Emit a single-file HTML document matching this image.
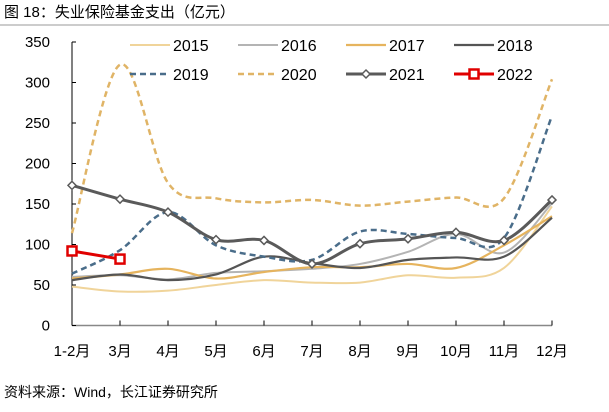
<!DOCTYPE html>
<html><head><meta charset="utf-8"><style>
body{margin:0;background:#fff;width:609px;height:407px;overflow:hidden;font-family:"Liberation Sans","Noto Sans CJK SC",sans-serif}
</style></head><body>
<svg width="609" height="407">
<text x="4" y="17" font-size="15" fill="#000">图 18：失业保险基金支出（亿元）</text>
<line x1="0" y1="25" x2="609" y2="25" stroke="#999" stroke-width="1"/>
<g id="axes"></g>
<g id="series"></g>
<g id="legend"></g>
<text x="4" y="397" font-size="14" fill="#000">资料来源：Wind，长江证券研究所</text>
</svg>
<script>
const categories=["1-2月","3月","4月","5月","6月","7月","8月","9月","10月","11月","12月"];
const yTicks=[0,50,100,150,200,250,300,350];
const s2015=[48,42,43,50,56,53,53,62,59,71,147];
const s2016=[60,62,57,65,67,70,76,91,113,90,151];
const s2017=[58,63,70,58,66,72,72,76,71,99,135];
const s2018=[56,63,56,63,85,77,71,81,84,85,133];
const s2019=[64,93,140,99,85,81,116,113,108,108,259];
const s2020=[114,322,176,157,152,155,148,153,158,157,304];
const s2021=[173,156,140,106,105,76,101,107,115,105,155];
const s2022=[92,82];
const NS="http://www.w3.org/2000/svg";
function X(i){return 72+i*48;}
function Y(v){return 325.5-v*0.81;}
function mk(t,a,p){const e=document.createElementNS(NS,t);for(const k in a)e.setAttribute(k,a[k]);p.appendChild(e);return e;}
const ax=document.getElementById('axes');
let yl=mk('line',{x1:72,y1:Y(0),x2:72,y2:Y(350),stroke:'#000','stroke-width':1},ax);


let xl=mk('line',{x1:72,y1:Y(0),x2:552,y2:Y(0),stroke:'#888','stroke-width':1.5},ax);


yTicks.forEach(v=>{mk('line',{x1:72,y1:Y(v),x2:76,y2:Y(v),stroke:'#000'},ax);
 const t=mk('text',{x:50,y:Y(v)+5,'font-size':15,'text-anchor':'end'},ax);t.textContent=v;
 
 });
categories.forEach((c,i)=>{mk('line',{x1:X(i),y1:Y(0),x2:X(i),y2:Y(0)-5,stroke:'#000'},ax);
 const t=mk('text',{x:X(i),y:356,'font-size':15,'text-anchor':'middle'},ax);t.textContent=c;
 
 });
function smooth(d){const p=d.map((v,i)=>[X(i),Y(v)]);let s='M'+p[0][0]+','+p[0][1];
 for(let i=0;i<p.length-1;i++){const p0=p[i-1]||p[i],p1=p[i],p2=p[i+1],p3=p[i+2]||p2;
 const c1=[p1[0]+(p2[0]-p0[0])/6,p1[1]+(p2[1]-p0[1])/6],c2=[p2[0]-(p3[0]-p1[0])/6,p2[1]-(p3[1]-p1[1])/6];
 s+=' C'+c1+' '+c2+' '+p2;}return s;}
const sg=document.getElementById('series');
const defs=[
 ['2015',s2015,'#f0d49a',2,null,null],
 ['2016',s2016,'#b4b4b4',2,null,null],
 ['2017',s2017,'#e6b45e',2.2,null,null],
 ['2018',s2018,'#555',2.2,null,null],
 ['2019',s2019,'#4a6d8a',2.5,'6,4',null],
 ['2020',s2020,'#e0b466',2.5,'6,4',null],
 ['2021',s2021,'#5a5a5a',3,null,'diamond'],
 ['2022',s2022,'#e00000',3,null,'square']];
defs.forEach(([n,d,c,w,da,m])=>{
 let p;
 if(n==='2022'){p=mk('polyline',{points:d.map((v,i)=>X(i)+','+Y(v)).join(' '),fill:'none',stroke:c,'stroke-width':w},sg);}
 else p=mk('path',{d:smooth(d),fill:'none',stroke:c,'stroke-width':w,'stroke-dasharray':da||'none'},sg);
 
 
 if(m)d.forEach((v,i)=>{let e;
  if(m==='diamond')e=mk('path',{d:`M${X(i)},${Y(v)-4} l4,4 l-4,4 l-4,-4z`,fill:'#fff',stroke:c,'stroke-width':1.5},sg);
  else e=mk('rect',{x:X(i)-4.5,y:Y(v)-4.5,width:9,height:9,fill:'#fff',stroke:c,'stroke-width':2.5},sg);
  
  });
});
const lg=document.getElementById('legend');
defs.forEach(([n,d,c,w,da,m],k)=>{const col=k%4,row=Math.floor(k/4);
 const x=130+col*108,y=45+row*29;
 const g=mk('g',{},lg);
 
 
 mk('line',{x1:x,y1:y,x2:x+40,y2:y,stroke:c,'stroke-width':w,'stroke-dasharray':da||'none'},g);
 if(m==='diamond')mk('path',{d:`M${x+20},${y-4} l4,4 l-4,4 l-4,-4z`,fill:'#fff',stroke:c,'stroke-width':1.5},g);
 if(m==='square')mk('rect',{x:x+15.5,y:y-4.5,width:9,height:9,fill:'#fff',stroke:c,'stroke-width':2.5},g);
 const t=mk('text',{x:x+43,y:y+6,'font-size':16},g);t.textContent=n;});
</script>
</body></html>
